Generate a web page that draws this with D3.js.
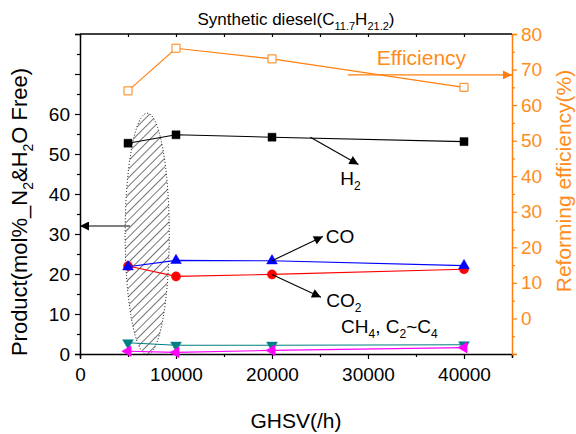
<!DOCTYPE html>
<html>
<head>
<meta charset="utf-8">
<script src="https://cdn.jsdelivr.net/npm/d3@7"></script>
<style>
  html, body { margin: 0; padding: 0; background: #fff; }
  svg text { font-family: Arial, "Liberation Sans", sans-serif; }
</style>
</head>
<body>
<svg id="chart" width="576" height="434"></svg>
<script>
// GHSV sweep for synthetic diesel reforming
const ghsv = [5000, 10000, 20000, 40000];
const h2 = [52.7, 54.8, 54.2, 53.1];
const co = [21.8, 23.4, 23.3, 22.1];
const co2 = [22.0, 19.4, 19.9, 21.2];
const ch4 = [2.8, 2.2, 2.2, 2.3];
const c2c4 = [0.7, 0.4, 0.9, 1.6];
const efficiency = [64, 76, 73, 65];

const xTicks = [0, 10000, 20000, 30000, 40000];
const yLeftTicks = [0, 10, 20, 30, 40, 50, 60];
const yRightTicks = [0, 10, 20, 30, 40, 50, 60, 70, 80];

const ORANGE = "#ff7f0e";
const ORANGE_TXT = "#ff8c1a";

const svg = d3.select("#chart");
const margin = { left: 80, right: 64, top: 34, bottom: 80 };
const W = 576, H = 434;

const x = d3.scaleLinear().domain([0, 45000]).range([margin.left, W - margin.right]);
const yL = d3.scaleLinear().domain([0, 80]).range([H - margin.bottom, margin.top]);
const yR = d3.scaleLinear().domain([-10, 80]).range([H - margin.bottom, margin.top]);

// hatch pattern for the highlighted low-GHSV region
const defs = svg.append("defs");
defs.append("pattern")
  .attr("id", "hatch")
  .attr("patternUnits", "userSpaceOnUse")
  .attr("width", 6).attr("height", 6)
  .attr("patternTransform", "rotate(45)")
  .append("line")
  .attr("x1", 0).attr("y1", 0).attr("x2", 0).attr("y2", 6)
  .attr("stroke", "#000").attr("stroke-width", 1.1);

const arrowHead = (id, color) => {
  defs.append("marker")
    .attr("id", id)
    .attr("viewBox", "0 0 10 10")
    .attr("refX", 10).attr("refY", 5)
    .attr("markerUnits", "userSpaceOnUse")
    .attr("markerWidth", 11).attr("markerHeight", 9)
    .attr("orient", "auto")
    .append("path")
    .attr("d", "M0,0 L10,5 L0,10 Z")
    .attr("fill", color);
};
arrowHead("arrowK", "#000");
arrowHead("arrowO", ORANGE);

// highlighted region (ellipse in data space)
const ell = { cx: 7000, rx: 2300, cy: 30, ry: 30.2 };
svg.append("ellipse")
  .attr("cx", x(ell.cx))
  .attr("cy", yL(ell.cy))
  .attr("rx", x(ell.cx + ell.rx) - x(ell.cx))
  .attr("ry", yL(0) - yL(ell.ry))
  .attr("fill", "url(#hatch)")
  .attr("stroke", "#000")
  .attr("stroke-width", 1)
  .attr("stroke-dasharray", "1,2");

// axes
const axisBottom = d3.axisBottom(x)
  .tickValues(d3.range(0, 45001, 5000))
  .tickSize(4)
  .tickFormat(d => xTicks.includes(d) ? d : "");
const gx = svg.append("g").attr("transform", `translate(0,${yL(0)})`).call(axisBottom);
gx.select(".domain").attr("stroke", "#000").attr("stroke-width", 1.5);
gx.selectAll(".tick line").attr("stroke-width", 1.2)
  .attr("y2", d => xTicks.includes(d) ? 5 : 3);
gx.selectAll(".tick text").attr("font-size", 19).attr("dy", 0).attr("y", 27).attr("fill", "#000");

const axisTop = d3.axisTop(x).tickValues(d3.range(0, 45001, 5000)).tickSize(-3).tickFormat("");
const gt = svg.append("g").attr("transform", `translate(0,${margin.top})`).call(axisTop);
gt.select(".domain").attr("stroke", "#000").attr("stroke-width", 1.5).attr("d", `M${x(0)},0H${x(45000)}`);
gt.selectAll(".tick line").attr("stroke-width", 1.2);

const axisLeft = d3.axisLeft(yL)
  .tickValues(d3.range(0, 81, 5))
  .tickSize(5)
  .tickFormat(d => yLeftTicks.includes(d) ? d : "");
const gl = svg.append("g").attr("transform", `translate(${margin.left},0)`).call(axisLeft);
gl.select(".domain").attr("stroke", "#000").attr("stroke-width", 1.5);
gl.selectAll(".tick line").attr("stroke-width", 1.2)
  .attr("x2", d => d % 10 === 0 ? -5 : -3);
gl.selectAll(".tick text").attr("font-size", 19).attr("x", -10).attr("fill", "#000");

const axisRight = d3.axisRight(yR)
  .tickValues(d3.range(-10, 81, 5))
  .tickSize(5)
  .tickFormat(d => yRightTicks.includes(d) ? d : "");
const gr = svg.append("g").attr("transform", `translate(${W - margin.right},0)`).call(axisRight);
gr.select(".domain").attr("stroke", ORANGE).attr("stroke-width", 1.5);
gr.selectAll(".tick line").attr("stroke", ORANGE).attr("stroke-width", 1.2)
  .attr("x2", d => d % 10 === 0 ? 5 : 3);
gr.selectAll(".tick text").attr("font-size", 19).attr("x", 9).attr("fill", ORANGE_TXT);

// text with subscripts: parts are [string, isSubscript]
function richText(sel, parts, size) {
  let lowered = false;
  const shift = Math.round(size * 0.28);
  parts.forEach(([s, sub]) => {
    const ts = sel.append("tspan").text(s);
    if (sub) {
      ts.attr("font-size", Math.round(size * 0.62));
      ts.attr("dy", lowered ? 0 : shift);
      lowered = true;
    } else {
      ts.attr("dy", lowered ? -shift : 0);
      lowered = false;
    }
  });
  return sel;
}

// axis titles
svg.append("text")
  .attr("x", (x(0) + x(45000)) / 2).attr("y", 428)
  .attr("text-anchor", "middle").attr("font-size", 21)
  .text("GHSV(/h)");

richText(
  svg.append("text")
    .attr("transform", `translate(27,212) rotate(-90)`)
    .attr("text-anchor", "middle").attr("font-size", 22),
  [["Product(mol%_N"], ["2", true], ["&H"], ["2", true], ["O Free)"]], 22);

svg.append("text")
  .attr("transform", `translate(571,181) rotate(-90)`)
  .attr("text-anchor", "middle").attr("font-size", 21)
  .attr("fill", ORANGE_TXT)
  .text("Reforming efficiency(%)");

richText(
  svg.append("text")
    .attr("x", (x(0) + x(45000)) / 2).attr("y", 25)
    .attr("text-anchor", "middle").attr("font-size", 17),
  [["Synthetic diesel(C"], ["11.7", true], ["H"], ["21.2", true], [")"]], 17);

// series
const rows = (vals) => ghsv.map((g, i) => [g, vals[i]]);
const lineL = d3.line().x(d => x(d[0])).y(d => yL(d[1]));
const lineR = d3.line().x(d => x(d[0])).y(d => yR(d[1]));

const sym = {
  square: d3.symbol().type(d3.symbolSquare).size(64),
  circle: d3.symbol().type(d3.symbolCircle).size(66),
  triUp: d3.symbol().type(d3.symbolTriangle).size(50),
};

function drawSeries(vals, color, shape, opts = {}) {
  const data = rows(vals);
  const scale = opts.right ? yR : yL;
  svg.append("path")
    .attr("d", (opts.right ? lineR : lineL)(data))
    .attr("fill", "none").attr("stroke", color).attr("stroke-width", 1.1);
  svg.append("g").selectAll("path").data(data).join("path")
    .attr("d", shape)
    .attr("transform", d => `translate(${x(d[0])},${scale(d[1])}) rotate(${opts.rotate || 0})`)
    .attr("fill", opts.open ? "#fff" : color)
    .attr("stroke", color)
    .attr("stroke-width", opts.open ? 1 : 0.5);
}

drawSeries(efficiency, ORANGE, sym.square(), { right: true, open: true });
drawSeries(h2, "#000", sym.square());
drawSeries(co2, "#ff0000", sym.circle());
drawSeries(co, "#0000ff", sym.triUp());
drawSeries(ch4, "#008080", sym.triUp(), { rotate: 180 });
drawSeries(c2c4, "#ff00ff", sym.triUp(), { rotate: -90 });

// annotation arrows (data coordinates)
function arrow(x1, y1, x2, y2, scale, color, marker) {
  svg.append("line")
    .attr("x1", x(x1)).attr("y1", scale(y1))
    .attr("x2", x(x2)).attr("y2", scale(y2))
    .attr("stroke", color).attr("stroke-width", 1.1)
    .attr("marker-end", `url(#${marker})`);
}
arrow(24000, 54.2, 29000, 47.4, yL, "#000", "arrowK");
arrow(20000, 23.3, 25300, 29.4, yL, "#000", "arrowK");
arrow(20000, 19.9, 25100, 14.2, yL, "#000", "arrowK");
arrow(5200, 32, 0, 32, yL, "#000", "arrowK");
arrow(27900, 68.5, 45000, 68.5, yR, ORANGE, "arrowO");

function label(xv, yv, scale, parts, color, size) {
  const t = svg.append("text")
    .attr("x", x(xv)).attr("y", scale(yv))
    .attr("font-size", size).attr("fill", color);
  richText(t, parts, size);
}
label(27100, 42.3, yL, [["H"], ["2", true]], "#000", 19);
label(25600, 27.8, yL, [["CO"]], "#000", 19);
label(25650, 11.8, yL, [["CO"], ["2", true]], "#000", 19);
label(27200, 5.3, yL, [["CH"], ["4", true], [", C"], ["2", true], ["~C"], ["4", true]], "#000", 19);
label(30900, 71.3, yR, [["Efficiency"]], ORANGE_TXT, 21);
</script>
</body>
</html>
